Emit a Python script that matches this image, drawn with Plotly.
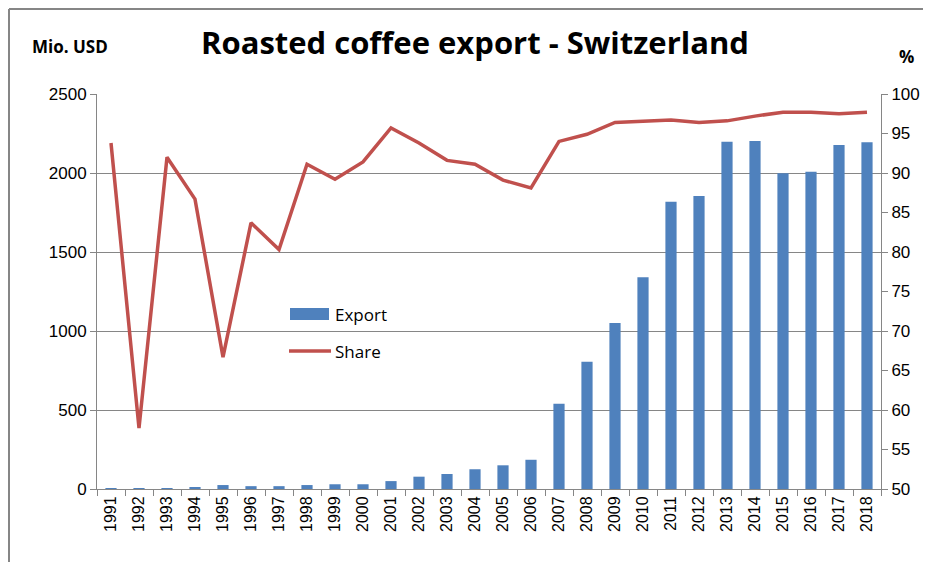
import plotly.graph_objects as go

years = [str(y) for y in range(1991, 2019)]
export_musd = [5, 5, 5, 12, 25, 18, 18, 25, 30, 30, 50, 78, 95, 125, 150, 185,
               540, 805, 1050, 1340, 1818, 1855, 2197, 2203, 1998, 2008, 2177, 2195]
share_pct = [93.8, 57.7, 92.0, 86.7, 66.7, 83.7, 80.3, 91.1, 89.2, 91.4, 95.7, 93.8,
             91.6, 91.1, 89.1, 88.1, 94.0, 94.9, 96.4, 96.6, 96.7, 96.4, 96.6, 97.2,
             97.7, 97.7, 97.5, 97.7]
left_ticks = [0, 500, 1000, 1500, 2000, 2500]
right_ticks = [50, 55, 60, 65, 70, 75, 80, 85, 90, 95, 100]

BLUE = "#4F81BD"
RED = "#C0504D"
GRID = "#868686"
FONT = "Liberation Sans"
TFONT = "Open Sans"

# page body has an 8px margin: work in page pixels and shift
OFF = 8
W, H = 931 - OFF, 562 - OFF
L, T = 97 - OFF, 94 - OFF
R = W - (881 - OFF)
B = H - (489 - OFF)
pw, ph = W - L - R, H - T - B


def px(x):
    return (x - OFF - L) / pw


def py(y):
    return (H - B - (y - OFF)) / ph


fig = go.Figure()
fig.add_trace(go.Bar(x=years, y=export_musd, name="Export", marker_color=BLUE,
                     marker_line_width=0, showlegend=False))
fig.add_trace(go.Scatter(x=years, y=share_pct, name="Share", mode="lines",
                         line=dict(color=RED, width=3.5), yaxis="y2", showlegend=False))

fig.update_layout(
    width=W, height=H,
    margin=dict(l=L, r=R, t=T, b=B),
    paper_bgcolor="white", plot_bgcolor="white",
    bargap=0.6,
    font=dict(family=FONT, color="#000000"),
    showlegend=False,
    xaxis=dict(type="category", tickangle=-90, tickfont=dict(size=16, family=FONT),
               showline=True, linecolor=GRID, linewidth=1,
               ticks="outside", ticklen=6, tickcolor=GRID, tickson="boundaries",
               showgrid=False),
    yaxis=dict(range=[0, 2500], tickvals=left_ticks, tickfont=dict(size=17, family=FONT),
               showline=True, linecolor=GRID, linewidth=1, ticks="outside", ticklen=6,
               tickcolor=GRID, showgrid=True, gridcolor=GRID, gridwidth=1, zeroline=False),
    yaxis2=dict(range=[50, 100], tickvals=right_ticks, tickfont=dict(size=17, family=FONT),
                overlaying="y", side="right", showline=True, linecolor=GRID, linewidth=1,
                ticks="outside", ticklen=6, tickcolor=GRID, showgrid=False, zeroline=False),
    annotations=[
        dict(text="<b>Roasted coffee export - Switzerland</b>", x=px(475), y=py(42),
             xref="paper", yref="paper", showarrow=False, xanchor="center", yanchor="middle",
             font=dict(size=31, family=TFONT)),
        dict(text="<b>Mio. USD</b>", x=px(70), y=py(46), xref="paper", yref="paper",
             showarrow=False, xanchor="center", yanchor="middle",
             font=dict(size=17, family=TFONT)),
        dict(text="<b>%</b>", x=px(906), y=py(57), xref="paper", yref="paper",
             showarrow=False, xanchor="center", yanchor="middle",
             font=dict(size=17, family=TFONT)),
        dict(text="Export", x=px(333), y=py(314), xref="paper", yref="paper",
             showarrow=False, xanchor="left", yanchor="middle",
             font=dict(size=17, family=TFONT)),
        dict(text="Share", x=px(333), y=py(351), xref="paper", yref="paper",
             showarrow=False, xanchor="left", yanchor="middle",
             font=dict(size=17, family=TFONT)),
    ],
    shapes=[
        dict(type="rect", xref="paper", yref="paper", x0=px(290), x1=px(329),
             y0=py(320), y1=py(308), fillcolor=BLUE, line=dict(width=0)),
        dict(type="line", xref="paper", yref="paper", x0=px(289), x1=px(331),
             y0=py(351), y1=py(351), line=dict(color=RED, width=3.5)),
        dict(type="line", xref="paper", yref="paper", x0=px(OFF + 1), x1=px(OFF + 1),
             y0=py(562), y1=py(OFF + 1), line=dict(color=GRID, width=2)),
        dict(type="line", xref="paper", yref="paper", x0=px(OFF + 1), x1=px(931),
             y0=py(OFF + 1), y1=py(OFF + 1), line=dict(color=GRID, width=2)),
    ],
)

fig.write_html("out.html")
